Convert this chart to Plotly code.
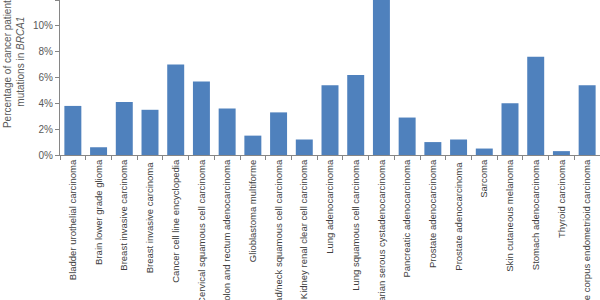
import plotly.graph_objects as go

categories = [
    "Bladder urothelial carcinoma",
    "Brain lower grade glioma",
    "Breast invasive carcinoma",
    "Breast invasive carcinoma ",
    "Cancer cell line encyclopedia",
    "Cervical squamous cell carcinoma",
    "Colon and rectum adenocarcinoma",
    "Glioblastoma multiforme",
    "Head/neck squamous cell carcinoma",
    "Kidney renal clear cell carcinoma",
    "Lung adenocarcinoma",
    "Lung squamous cell carcinoma",
    "Ovarian serous cystadenocarcinoma",
    "Pancreatic adenocarcinoma",
    "Prostate adenocarcinoma",
    "Prostate adenocarcinoma ",
    "Sarcoma",
    "Skin cutaneous melanoma",
    "Stomach adenocarcinoma",
    "Thyroid carcinoma",
    "Uterine corpus endometrioid carcinoma",
]
values = [3.8, 0.6, 4.1, 3.5, 7.0, 5.7, 3.6, 1.5, 3.3, 1.2, 5.4, 6.2,
          12.5, 2.9, 1.0, 1.2, 0.5, 4.0, 7.6, 0.3, 5.4]
y_ticks = [0, 2, 4, 6, 8, 10, 12]
y_tick_labels = ["0%", "2%", "4%", "6%", "8%", "10%", "12%"]

fig = go.Figure(go.Bar(x=categories, y=values, marker_color="#4F81BD",
                       marker_line_width=0))

fig.update_layout(
    width=600, height=300,
    margin=dict(l=60, r=0, t=0, b=145),
    plot_bgcolor="white", paper_bgcolor="white",
    bargap=0.34, showlegend=False,
    font=dict(family="Liberation Sans, Arial", color="#595959"),
)
fig.update_xaxes(
    tickangle=-90, tickfont=dict(size=9.5, color="#404040"),
    showline=True, linecolor="#868686", linewidth=1,
    ticks="outside", tickson="boundaries", ticklen=4, tickcolor="#868686",
    showgrid=False, automargin=False,
)
fig.update_yaxes(
    range=[0, 12], tickmode="array", tickvals=y_ticks, ticktext=y_tick_labels,
    tickfont=dict(size=10, color="#595959"),
    showline=True, linecolor="#868686", linewidth=1,
    ticks="outside", ticklen=4, tickcolor="#868686",
    showgrid=False, zeroline=False, automargin=False,
)
fig.add_annotation(
    text="Percentage of cancer patients<br>mutations in <i>BRCA1</i>",
    xref="paper", yref="paper", x=-0.085, y=0.6,
    xanchor="center", yanchor="middle", textangle=-90, showarrow=False,
    font=dict(size=10, color="#595959"),
)

fig.write_html("out.html")
